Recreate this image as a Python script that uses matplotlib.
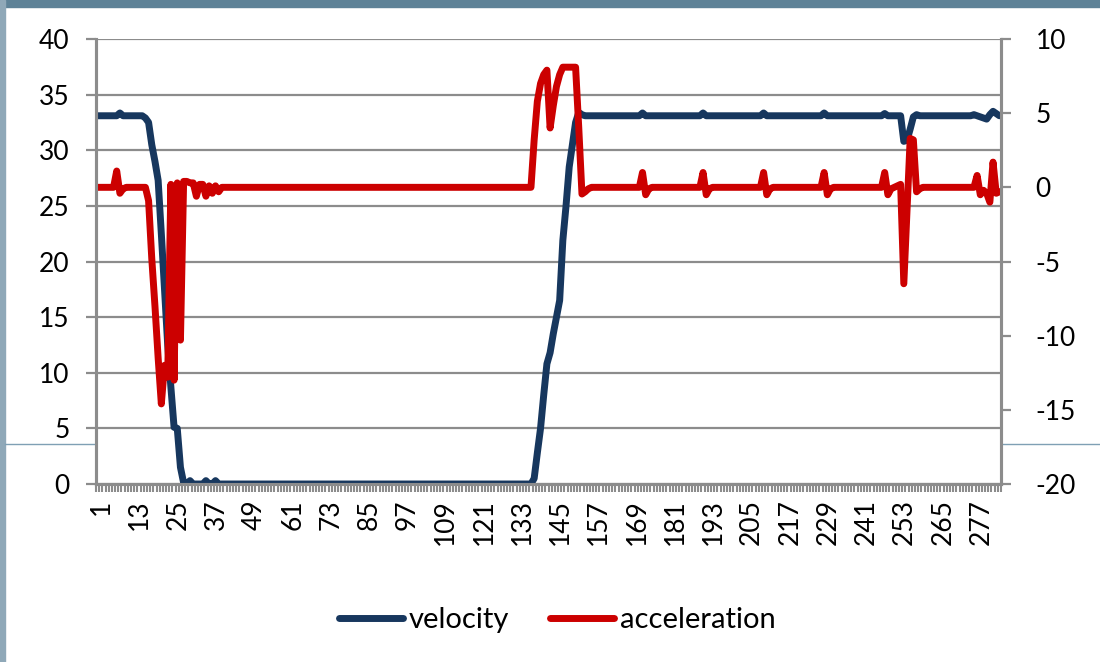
import matplotlib
matplotlib.use("Agg")
import matplotlib.pyplot as plt
from matplotlib.lines import Line2D
from matplotlib.patches import Rectangle
import matplotlib.transforms as mtransforms

# values, sample 1..284
velocity = ([33.1] * 7 + [33.35] + [33.1] * 7 +
            [32.9, 32.5, 30.5, 29.0, 27.3, 22.5, 17.5, 12.5, 8.7, 5.1, 5.0, 1.5, 0.1] +
            [0.0, 0.3, 0.0, 0.0, 0.0, 0.0, 0.3, 0.0, 0.0, 0.3] +
            [0.0] * 99 +
            [0.5, 2.8, 5.0, 8.0, 10.8, 11.8, 13.5, 15.0, 16.5, 21.9, 25.0, 28.5, 30.5,
             32.5, 33.4, 33.2] +
            [33.1] * 18 + [33.35] + [33.1] * 18 + [33.35] + [33.1] * 18 + [33.35] +
            [33.1] * 18 + [33.35] + [33.1] * 18 + [33.3] + [33.1] * 5 +
            [30.8, 30.9, 31.9, 33.0, 33.2] + [33.1] * 17 +
            [33.2, 33.1, 33.0, 32.9, 32.8, 33.2, 33.5, 33.3, 33.1])

acceleration = ([0.0] * 6 + [1.1, -0.4, -0.1] + [0.0] * 7 +
                [-0.9, -4.8, -8.0, -11.5, -14.6, -12.0, -12.8, 0.2, -13.0, 0.3, -10.3,
                 0.4, 0.4, 0.3, 0.3, -0.6, 0.2, 0.2, -0.6, 0.1, -0.4, 0.1, -0.3] +
                [0.0] * 98 +
                [3.2, 5.8, 7.0, 7.6, 7.9, 4.0, 5.5, 6.8, 7.6, 8.1, 8.1, 8.1, 8.1, 8.1,
                 4.0, -0.45, -0.3, -0.1] +
                [0.0] * 16 + [1.0, -0.5, -0.1] + [0.0] * 16 + [1.0, -0.5, -0.1] +
                [0.0] * 16 + [1.0, -0.5, -0.1] + [0.0] * 16 + [1.0, -0.5, -0.1] +
                [0.0] * 16 + [1.0, -0.5, -0.1] +
                [0.0, 0.1, 0.2, -6.5, -1.6, 3.3, 3.2, -0.3, -0.1] + [0.0] * 17 +
                [0.8, -0.5, -0.2, -0.4, -1.0, 1.7, -0.4, -0.3])

samples = list(range(1, len(velocity) + 1))
tick_labels = [str(s) for s in samples[::12]]
left_ticks = [0, 5, 10, 15, 20, 25, 30, 35, 40]
right_ticks = [-20, -15, -10, -5, 0, 5, 10]

plt.rcParams['font.family'] = ['Lato', 'DejaVu Sans']
plt.rcParams['axes.unicode_minus'] = False
grey = '#8c8c8c'
fs = 19

fig = plt.figure(figsize=(11, 6.62), dpi=100)
fig.patch.set_facecolor('white')

# window frame bits around the chart
fig.add_artist(Rectangle((0, 1 - 7 / 662), 1, 7 / 662, transform=fig.transFigure,
                         color='#5e8297', zorder=0))
fig.add_artist(Rectangle((0, 0), 5 / 1100, 1, transform=fig.transFigure,
                         color='#8fa8b8', zorder=0))
fig.add_artist(Line2D([5 / 1100, 1], [1 - 444 / 662] * 2, transform=fig.transFigure,
                      color='#7fa0b4', lw=1, zorder=0))

ax = fig.add_axes([96 / 1100, 1 - 484 / 662, 905 / 1100, 445 / 662])
ax.set_zorder(1)
ax.set_facecolor('white')
ax2 = ax.twinx()

l1, = ax.plot(samples, velocity, color='#17375e', lw=5, solid_joinstyle='round',
              solid_capstyle='round', label='velocity')
l2, = ax2.plot(samples, acceleration, color='#cc0000', lw=5, solid_joinstyle='round',
               solid_capstyle='round', label='acceleration')

ax.set_xlim(0.5, len(samples) + 0.5)
ax.set_ylim(0, 40)
ax2.set_ylim(-20, 10)
ax.set_yticks(left_ticks)
ax2.set_yticks(right_ticks)
ax.grid(axis='y', color=grey, lw=1.6)
ax.set_axisbelow(True)

ax.set_xticks(samples[::12])
ax.set_xticklabels(tick_labels, rotation=90, va='top', ha='center')
ax.set_xticks([s - 0.5 for s in samples] + [len(samples) + 0.5], minor=True)
ax.tick_params(axis='x', which='major', length=0, pad=11, labelsize=fs)
ax.tick_params(axis='x', which='minor', length=6, width=1.5, color=grey)
offset = mtransforms.ScaledTranslation(4 / 100, 0, fig.dpi_scale_trans)
for lab in ax.get_xticklabels():
    lab.set_transform(lab.get_transform() + offset)

ax.tick_params(axis='y', length=7, width=1.6, color=grey, pad=12, labelsize=fs)
ax2.tick_params(axis='y', length=7, width=1.6, color=grey, pad=18, labelsize=fs)

for a in (ax, ax2):
    for s in a.spines.values():
        s.set_color(grey)
        s.set_linewidth(2.2)
    a.spines['top'].set_visible(False)

fig.legend([l1, l2], ['velocity', 'acceleration'], loc='center',
           bbox_to_anchor=(557 / 1100, 1 - 620 / 662), ncol=2, frameon=False,
           fontsize=21, handlelength=2.2, handletextpad=0.2, columnspacing=1.4)

fig.savefig('out.png', dpi=100)
